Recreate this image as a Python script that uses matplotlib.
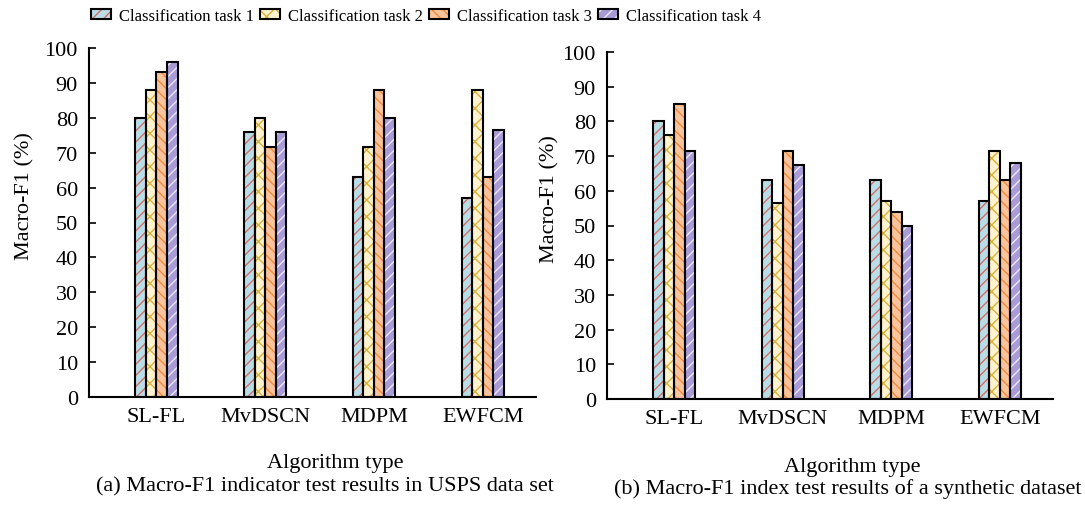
import numpy as np
import matplotlib
matplotlib.use('Agg')
import matplotlib.pyplot as plt
from matplotlib.patches import Patch

plt.rcParams['font.family'] = ['Liberation Serif', 'DejaVu Serif']
plt.rcParams['hatch.linewidth'] = 1.0

algorithms = ['SL-FL', 'MvDSCN', 'MDPM', 'EWFCM']
tasks = ['Classification task 1', 'Classification task 2',
         'Classification task 3', 'Classification task 4']

# Macro-F1 (%) per algorithm, one list per task
usps_task1 = [80, 76, 63, 57]
usps_task2 = [88, 80, 71.5, 88]
usps_task3 = [93, 71.5, 88, 63]
usps_task4 = [96, 76, 80, 76.5]

synth_task1 = [80, 63, 63, 57]
synth_task2 = [76, 56.5, 57, 71.5]
synth_task3 = [85, 71.5, 54, 63]
synth_task4 = [71.5, 67.5, 50, 68]

face = ['#b9dde7', '#fff3cf', '#f9c49c', '#a99bd6']
hatchcol = ['#d26f68', '#d6b13c', '#f08a3c', '#ece8f8']
hatches = ['///', 'xx', '\\\\\\', '///']

W = 1085 / 100
H = 506 / 100
fig = plt.figure(figsize=(W, H), dpi=100)

def px(x, y):
    return x / 1085, 1 - y / 506

ax1 = fig.add_axes([89 / 1085, 1 - 398 / 506, 447 / 1085, 349 / 506])
ax2 = fig.add_axes([607 / 1085, 1 - 400 / 506, 446 / 1085, 347 / 506])

fs = 16
width = 0.097
x = np.arange(len(algorithms))

def draw(ax, series, ylab_x):
    for i, vals in enumerate(series):
        pos = x + (i - 1.5) * width
        ax.bar(pos, vals, width, color=face[i], edgecolor=hatchcol[i],
               hatch=hatches[i], linewidth=0, zorder=2)
        ax.bar(pos, vals, width, fill=False, edgecolor='black',
               linewidth=1.5, zorder=3)
    ax.set_xlim(-0.62, 3.49)
    ax.set_ylim(0, 100)
    ax.set_yticks(np.arange(0, 101, 10))
    ax.set_xticks(x)
    ax.set_xticklabels(algorithms, fontsize=fs)
    ax.tick_params(axis='x', length=0, pad=7)
    ax.tick_params(axis='y', direction='in', length=5, width=1.2,
                   labelsize=fs, pad=8)
    for s in ['top', 'right']:
        ax.spines[s].set_visible(False)
    for s in ['left', 'bottom']:
        ax.spines[s].set_linewidth(1.5)
    ax.set_ylabel('Macro-F1 (%)', fontsize=fs)
    ax.yaxis.set_label_coords(ylab_x, 0.58)

draw(ax1, [usps_task1, usps_task2, usps_task3, usps_task4], -0.123)
draw(ax2, [synth_task1, synth_task2, synth_task3, synth_task4], -0.107)

fig.text(*px(335, 464), 'Algorithm type', fontsize=fs, ha='center', va='center')
fig.text(*px(852, 468), 'Algorithm type', fontsize=fs, ha='center', va='center')
fig.text(*px(325, 487), '(a) Macro-F1 indicator test results in USPS data set',
         fontsize=fs, ha='center', va='center')
fig.text(*px(848, 489), '(b) Macro-F1 index test results of a synthetic dataset',
         fontsize=fs, ha='center', va='center')

handles = []
for i in range(4):
    h1 = Patch(facecolor=face[i], edgecolor=hatchcol[i], hatch=hatches[i], linewidth=0)
    h2 = Patch(fill=False, edgecolor='black', linewidth=1.5)
    handles.append((h1, h2))
fig.legend(handles, tasks, ncol=4, loc='center', bbox_to_anchor=px(426, 17),
           frameon=False, fontsize=12, handlelength=1.2, handleheight=0.6,
           handletextpad=0.45, columnspacing=0.4, borderaxespad=0)

fig.savefig('out.png', dpi=100)
